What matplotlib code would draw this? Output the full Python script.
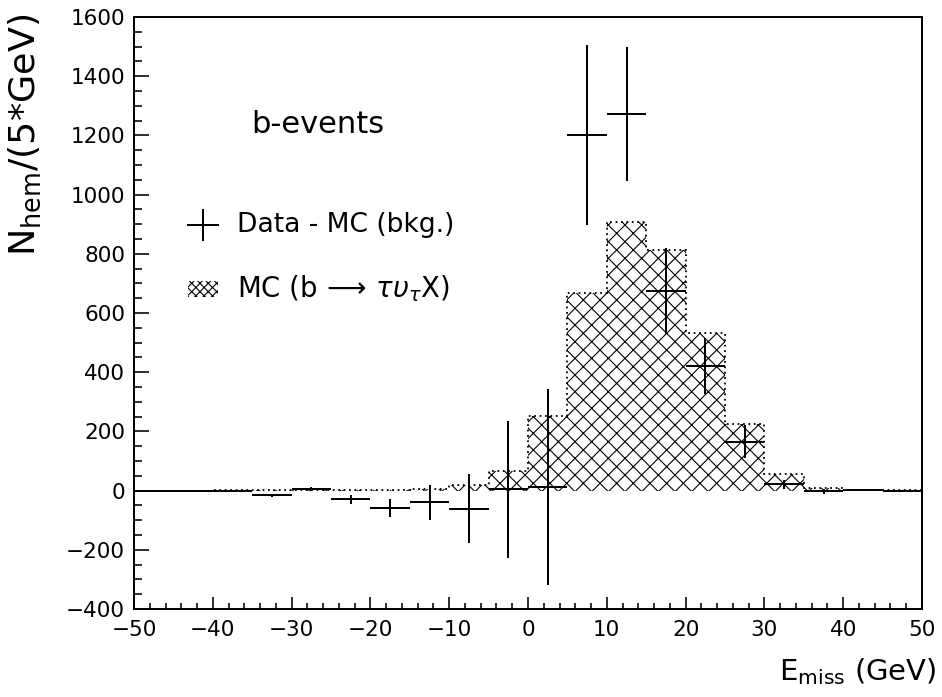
import numpy as np
import matplotlib
matplotlib.use("Agg")
import matplotlib.pyplot as plt
from matplotlib.patches import Rectangle
from matplotlib.ticker import MultipleLocator

# ---- data ----
bin_edges = [-50, -45, -40, -35, -30, -25, -20, -15, -10, -5, 0,
             5, 10, 15, 20, 25, 30, 35, 40, 45, 50]
bin_centers = [-47.5, -42.5, -37.5, -32.5, -27.5, -22.5, -17.5, -12.5, -7.5, -2.5,
               2.5, 7.5, 12.5, 17.5, 22.5, 27.5, 32.5, 37.5, 42.5, 47.5]
data_values = [0, -2, -3, -16, 5, -30, -59, -40, -61, 4,
               12, 1200, 1272, 675, 420, 165, 22, -3, 1, 0]
data_errors = [2, 2, 3, 4, 7, 16, 30, 58, 117, 232,
               330, 304, 226, 145, 95, 55, 15, 7, 3, 2]
mc_values = [0, 0, 1, 1, 1, 2, 3, 5, 18, 67,
             252, 668, 908, 812, 533, 224, 56, 10, 3, 1]
bin_halfwidth = 2.5
y_ticks = [-400, -200, 0, 200, 400, 600, 800, 1000, 1200, 1400, 1600]
x_ticks = [-50, -40, -30, -20, -10, 0, 10, 20, 30, 40, 50]

DPI = 100


def px(v):
    """pixels -> points"""
    return v * 72.0 / DPI


plt.rcParams['font.family'] = ['DejaVu Sans']
plt.rcParams['hatch.linewidth'] = px(1.1)
plt.rcParams['mathtext.fontset'] = 'dejavusans'

fig = plt.figure(figsize=(942 / DPI, 697 / DPI), dpi=DPI)
ax = fig.add_axes([134 / 942, 1 - 609 / 697, (922 - 134) / 942, (609 - 17) / 697])

# MC histogram: hatched fill + dotted outline
ax.stairs(mc_values, bin_edges, baseline=0, fill=True, facecolor='none',
          edgecolor='black', linewidth=0, hatch='xx')
ax.stairs(mc_values, bin_edges, baseline=0, fill=False, color='black',
          linewidth=px(1.8), linestyle=(0, (1, 2)))

# Data - MC points
ax.errorbar(bin_centers, data_values, xerr=bin_halfwidth, yerr=data_errors,
            fmt='none', ecolor='black', elinewidth=px(2.0), capsize=0)

ax.set_xlim(-50, 50)
ax.set_ylim(-400, 1600)
ax.set_xticks(x_ticks)
ax.set_yticks(y_ticks)
ax.xaxis.set_minor_locator(MultipleLocator(2))
ax.yaxis.set_minor_locator(MultipleLocator(50))
ax.tick_params(axis='both', which='both', direction='in', top=False, right=False,
               width=px(1.6), labelsize=px(21.5))
ax.tick_params(axis='y', which='major', length=px(15), pad=px(9))
ax.tick_params(axis='y', which='minor', length=px(8))
ax.tick_params(axis='x', which='major', length=px(12), pad=px(11))
ax.tick_params(axis='x', which='minor', length=px(6))
for s in ax.spines.values():
    s.set_linewidth(px(2.0))

# labels
fig.text(25 / 942, 1 - 14 / 697, r'N$_{\rm hem}$/(5*GeV)', rotation=90,
         ha='center', va='top', fontsize=px(36.5))
fig.text(936 / 942, 1 - 672 / 697, r'E$_{\rm miss}$ (GeV)', ha='right',
         va='center', fontsize=px(29))

ax.text(0.2335, 0.8176, 'b-events', transform=ax.transAxes, ha='center',
        va='center', fontsize=px(30.5))

# legend (manual)
ax.plot([0.0685, 0.1066], [0.6486, 0.6486], transform=ax.transAxes,
        color='black', lw=px(2.0))
ax.plot([0.0876, 0.0876], [0.6233, 0.674], transform=ax.transAxes,
        color='black', lw=px(2.0))
ax.text(0.1307, 0.6486, 'Data - MC (bkg.)', transform=ax.transAxes,
        ha='left', va='center', fontsize=px(26.5))
ax.add_patch(Rectangle((0.0685, 0.527), 0.038, 0.027, transform=ax.transAxes,
                       facecolor='none', edgecolor='black', linewidth=0,
                       hatch='xxxx'))
ax.text(0.1307, 0.5405, r'MC (b$\,\longrightarrow\,\tau\upsilon_\tau$X)',
        transform=ax.transAxes, ha='left', va='center', fontsize=px(27.5))

fig.savefig('out.png', dpi=DPI)
